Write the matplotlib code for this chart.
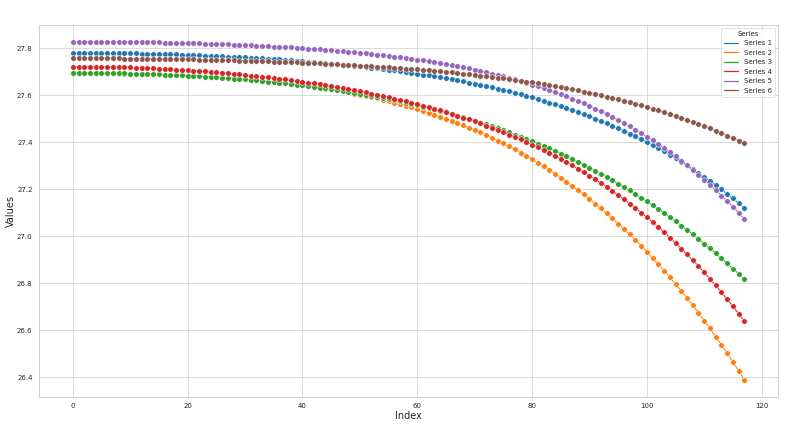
import matplotlib
matplotlib.use("Agg")
import matplotlib.pyplot as plt
from matplotlib.lines import Line2D
import seaborn as sns

index = list(range(118))

series_names = ["Series 1", "Series 2", "Series 3", "Series 4", "Series 5", "Series 6"]

series_1 = [27.7800, 27.7800, 27.7799, 27.7798, 27.7797, 27.7795, 27.7792, 27.7790, 27.7787, 27.7783,
            27.7779, 27.7775, 27.7770, 27.7765, 27.7759, 27.7753, 27.7746, 27.7739, 27.7732, 27.7724,
            27.7716, 27.7707, 27.7698, 27.7688, 27.7678, 27.7668, 27.7657, 27.7645, 27.7633, 27.7621,
            27.7608, 27.7594, 27.7580, 27.7566, 27.7551, 27.7535, 27.7519, 27.7502, 27.7485, 27.7467,
            27.7448, 27.7429, 27.7409, 27.7389, 27.7367, 27.7345, 27.7323, 27.7299, 27.7275, 27.7250,
            27.7224, 27.7198, 27.7170, 27.7142, 27.7112, 27.7082, 27.7051, 27.7019, 27.6985, 27.6951,
            27.6915, 27.6879, 27.6841, 27.6801, 27.6761, 27.6719, 27.6676, 27.6632, 27.6586, 27.6539,
            27.6490, 27.6439, 27.6387, 27.6333, 27.6277, 27.6220, 27.6161, 27.6100, 27.6036, 27.5971,
            27.5904, 27.5834, 27.5763, 27.5689, 27.5612, 27.5534, 27.5452, 27.5368, 27.5282, 27.5193,
            27.5100, 27.5005, 27.4907, 27.4806, 27.4702, 27.4594, 27.4484, 27.4369, 27.4252, 27.4130,
            27.4005, 27.3876, 27.3743, 27.3606, 27.3465, 27.3319, 27.3170, 27.3015, 27.2857, 27.2693,
            27.2525, 27.2351, 27.2173, 27.1989, 27.1800, 27.1606, 27.1406, 27.1200]

series_2 = [27.6940, 27.6940, 27.6939, 27.6938, 27.6936, 27.6934, 27.6931, 27.6928, 27.6925, 27.6920,
            27.6916, 27.6911, 27.6905, 27.6898, 27.6891, 27.6884, 27.6876, 27.6867, 27.6858, 27.6847,
            27.6837, 27.6825, 27.6813, 27.6800, 27.6786, 27.6771, 27.6756, 27.6739, 27.6722, 27.6703,
            27.6684, 27.6664, 27.6642, 27.6619, 27.6596, 27.6571, 27.6544, 27.6517, 27.6488, 27.6458,
            27.6426, 27.6393, 27.6358, 27.6322, 27.6284, 27.6245, 27.6203, 27.6160, 27.6115, 27.6068,
            27.6020, 27.5969, 27.5916, 27.5860, 27.5803, 27.5743, 27.5681, 27.5617, 27.5550, 27.5480,
            27.5408, 27.5332, 27.5255, 27.5174, 27.5090, 27.5003, 27.4913, 27.4820, 27.4724, 27.4624,
            27.4521, 27.4414, 27.4304, 27.4190, 27.4072, 27.3950, 27.3824, 27.3694, 27.3560, 27.3421,
            27.3278, 27.3131, 27.2979, 27.2822, 27.2661, 27.2495, 27.2323, 27.2147, 27.1965, 27.1778,
            27.1586, 27.1388, 27.1184, 27.0974, 27.0759, 27.0538, 27.0310, 27.0076, 26.9836, 26.9589,
            26.9336, 26.9076, 26.8809, 26.8535, 26.8254, 26.7966, 26.7670, 26.7367, 26.7056, 26.6737,
            26.6410, 26.6076, 26.5733, 26.5381, 26.5022, 26.4653, 26.4276, 26.3890]

series_3 = [27.6950, 27.6950, 27.6949, 27.6947, 27.6945, 27.6943, 27.6940, 27.6936, 27.6931, 27.6926,
            27.6921, 27.6915, 27.6908, 27.6900, 27.6892, 27.6883, 27.6874, 27.6864, 27.6853, 27.6842,
            27.6830, 27.6817, 27.6804, 27.6789, 27.6774, 27.6759, 27.6742, 27.6725, 27.6707, 27.6688,
            27.6668, 27.6648, 27.6626, 27.6604, 27.6580, 27.6556, 27.6531, 27.6505, 27.6478, 27.6450,
            27.6420, 27.6390, 27.6359, 27.6326, 27.6292, 27.6257, 27.6221, 27.6184, 27.6146, 27.6106,
            27.6065, 27.6022, 27.5978, 27.5933, 27.5886, 27.5838, 27.5788, 27.5737, 27.5684, 27.5629,
            27.5573, 27.5515, 27.5456, 27.5395, 27.5331, 27.5266, 27.5200, 27.5131, 27.5060, 27.4987,
            27.4913, 27.4836, 27.4757, 27.4676, 27.4592, 27.4506, 27.4418, 27.4328, 27.4235, 27.4140,
            27.4043, 27.3942, 27.3839, 27.3734, 27.3626, 27.3515, 27.3401, 27.3284, 27.3165, 27.3042,
            27.2917, 27.2788, 27.2656, 27.2522, 27.2383, 27.2242, 27.2097, 27.1949, 27.1797, 27.1642,
            27.1483, 27.1320, 27.1154, 27.0984, 27.0810, 27.0633, 27.0451, 27.0265, 27.0075, 26.9881,
            26.9683, 26.9480, 26.9273, 26.9062, 26.8846, 26.8625, 26.8400, 26.8170]

series_4 = [27.7220, 27.7220, 27.7218, 27.7216, 27.7214, 27.7210, 27.7206, 27.7201, 27.7195, 27.7188,
            27.7181, 27.7173, 27.7164, 27.7154, 27.7143, 27.7132, 27.7120, 27.7107, 27.7093, 27.7078,
            27.7063, 27.7047, 27.7030, 27.7012, 27.6993, 27.6973, 27.6953, 27.6932, 27.6909, 27.6886,
            27.6862, 27.6837, 27.6811, 27.6785, 27.6757, 27.6728, 27.6698, 27.6668, 27.6636, 27.6603,
            27.6569, 27.6534, 27.6498, 27.6461, 27.6422, 27.6382, 27.6341, 27.6299, 27.6256, 27.6211,
            27.6165, 27.6117, 27.6068, 27.6017, 27.5965, 27.5912, 27.5856, 27.5800, 27.5741, 27.5681,
            27.5618, 27.5554, 27.5488, 27.5420, 27.5350, 27.5278, 27.5204, 27.5128, 27.5049, 27.4968,
            27.4884, 27.4798, 27.4709, 27.4618, 27.4524, 27.4427, 27.4328, 27.4225, 27.4119, 27.4010,
            27.3898, 27.3783, 27.3664, 27.3541, 27.3415, 27.3285, 27.3151, 27.3014, 27.2872, 27.2726,
            27.2576, 27.2421, 27.2262, 27.2098, 27.1929, 27.1755, 27.1576, 27.1392, 27.1203, 27.1008,
            27.0808, 27.0601, 27.0389, 27.0171, 26.9946, 26.9715, 26.9478, 26.9233, 26.8982, 26.8724,
            26.8458, 26.8185, 26.7905, 26.7616, 26.7319, 26.7015, 26.6702, 26.6380]

series_5 = [27.8280, 27.8280, 27.8279, 27.8279, 27.8277, 27.8276, 27.8274, 27.8272, 27.8270, 27.8267,
            27.8264, 27.8261, 27.8257, 27.8253, 27.8249, 27.8244, 27.8239, 27.8233, 27.8228, 27.8222,
            27.8215, 27.8208, 27.8201, 27.8194, 27.8186, 27.8178, 27.8169, 27.8160, 27.8150, 27.8140,
            27.8130, 27.8119, 27.8108, 27.8096, 27.8084, 27.8071, 27.8058, 27.8044, 27.8030, 27.8015,
            27.7999, 27.7983, 27.7966, 27.7948, 27.7930, 27.7911, 27.7891, 27.7871, 27.7849, 27.7827,
            27.7804, 27.7780, 27.7754, 27.7728, 27.7701, 27.7673, 27.7644, 27.7613, 27.7581, 27.7548,
            27.7514, 27.7478, 27.7441, 27.7402, 27.7362, 27.7320, 27.7277, 27.7232, 27.7185, 27.7136,
            27.7085, 27.7032, 27.6978, 27.6921, 27.6861, 27.6800, 27.6736, 27.6670, 27.6601, 27.6529,
            27.6455, 27.6378, 27.6298, 27.6215, 27.6129, 27.6039, 27.5947, 27.5851, 27.5751, 27.5648,
            27.5541, 27.5430, 27.5315, 27.5196, 27.5072, 27.4944, 27.4812, 27.4675, 27.4534, 27.4387,
            27.4235, 27.4079, 27.3916, 27.3749, 27.3575, 27.3396, 27.3211, 27.3019, 27.2822, 27.2618,
            27.2407, 27.2189, 27.1965, 27.1733, 27.1494, 27.1247, 27.0992, 27.0730]

series_6 = [27.7570, 27.7570, 27.7570, 27.7569, 27.7568, 27.7567, 27.7566, 27.7565, 27.7563, 27.7561,
            27.7559, 27.7557, 27.7554, 27.7551, 27.7548, 27.7545, 27.7541, 27.7538, 27.7534, 27.7530,
            27.7525, 27.7521, 27.7516, 27.7511, 27.7505, 27.7500, 27.7494, 27.7488, 27.7481, 27.7475,
            27.7468, 27.7461, 27.7453, 27.7445, 27.7437, 27.7429, 27.7420, 27.7411, 27.7402, 27.7392,
            27.7383, 27.7372, 27.7362, 27.7351, 27.7339, 27.7327, 27.7315, 27.7303, 27.7290, 27.7276,
            27.7262, 27.7248, 27.7233, 27.7218, 27.7202, 27.7186, 27.7169, 27.7152, 27.7134, 27.7115,
            27.7096, 27.7076, 27.7055, 27.7034, 27.7012, 27.6990, 27.6966, 27.6942, 27.6917, 27.6892,
            27.6865, 27.6837, 27.6809, 27.6780, 27.6749, 27.6718, 27.6686, 27.6652, 27.6618, 27.6582,
            27.6546, 27.6508, 27.6468, 27.6428, 27.6386, 27.6343, 27.6298, 27.6252, 27.6205, 27.6156,
            27.6105, 27.6053, 27.5999, 27.5943, 27.5886, 27.5827, 27.5766, 27.5703, 27.5638, 27.5571,
            27.5502, 27.5431, 27.5357, 27.5282, 27.5204, 27.5123, 27.5041, 27.4955, 27.4867, 27.4777,
            27.4684, 27.4588, 27.4489, 27.4387, 27.4283, 27.4175, 27.4064, 27.3950]

sns.set_theme(style="whitegrid")
plt.rcParams['font.family'] = ['DejaVu Sans']

colors = sns.color_palette("tab10", 6)
all_series = [series_1, series_2, series_3, series_4, series_5, series_6]

fig = plt.figure(figsize=(16, 8.74), dpi=50)
ax = fig.add_axes([0.049, 0.092, 0.9235, 0.8515])

for name, vals, c in zip(series_names, all_series, colors):
    ax.plot(index, vals, color=c, linewidth=1.5, marker='o', markersize=8,
            markeredgecolor='white', markeredgewidth=0.75, label=name)

ax.set_xlabel("Index", fontsize=14, labelpad=3)
ax.set_ylabel("Values", fontsize=14, labelpad=2)
ax.tick_params(labelsize=10)

handles = [Line2D([0], [0], color=c, linewidth=1.8) for c in colors]
ax.legend(handles, series_names, title="Series", loc="upper right",
          fontsize=10, title_fontsize=10)

fig.savefig("out.png", dpi=50)
